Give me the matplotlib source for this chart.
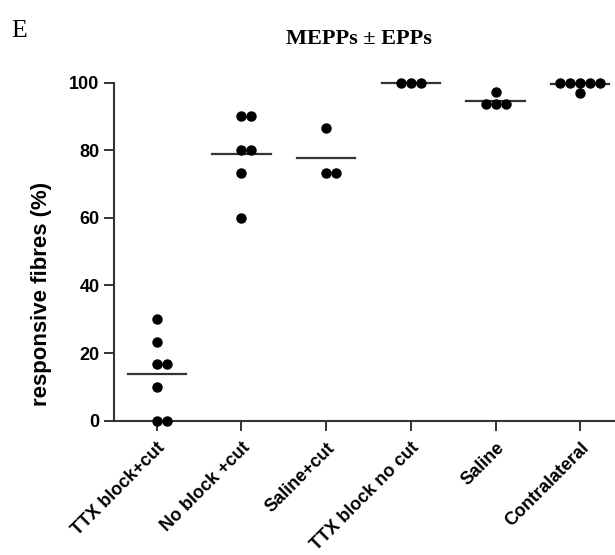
import numpy as np
import matplotlib
matplotlib.use("Agg")
import matplotlib.pyplot as plt

groups = ["TTX block+cut", "No block +cut", "Saline+cut", "TTX block no cut", "Saline", "Contralateral"]
ttx_cut = [30, 23.3, 16.7, 16.7, 10, 0, 0]
noblock_cut = [90, 90, 80, 80, 73.3, 60]
saline_cut = [86.7, 73.3, 73.3]
ttx_nocut = [100, 100, 100]
saline = [97.2, 93.7, 93.7, 93.7]
contra = [100, 100, 100, 100, 100, 97]
data = [ttx_cut, noblock_cut, saline_cut, ttx_nocut, saline, contra]
yticks = [0, 20, 40, 60, 80, 100]


def swarm(vals, step=0.118):
    # spread points that share a value side by side
    vals = np.asarray(vals, float)
    xs = np.zeros(len(vals))
    for v in np.unique(vals):
        idx = np.where(vals == v)[0]
        n = len(idx)
        xs[idx] = (np.arange(n) - (n - 1) // 2) * step
    return xs


plt.rcParams['font.family'] = ['Liberation Sans', 'DejaVu Sans']

fig = plt.figure(figsize=(6.15, 5.55), dpi=100)
ax = fig.add_axes([0.1854, 0.242, 0.8146, 0.609])

for i, vals in enumerate(data):
    xs = i + swarm(vals)
    ax.plot(xs, vals, 'o', color='black', markersize=6.5, clip_on=False, zorder=3)
    m = np.mean(vals)
    ax.plot([i - 0.344, i + 0.344], [m, m], color='#333333', lw=1.6, clip_on=False, zorder=2)

ax.set_xlim(-0.504, 5.41)
ax.set_ylim(0, 100)
ax.set_yticks(yticks)
ax.set_xticks(np.arange(len(groups)))
ax.set_xticklabels(groups, rotation=45, ha='right', rotation_mode='anchor',
                   fontsize=13, fontweight='bold')
ax.set_yticklabels([str(t) for t in yticks], fontsize=13, fontweight='bold')
ax.tick_params(axis='both', length=7.5, width=1.4, color='#333333', pad=3)
ax.tick_params(axis='x', pad=6)

for s in ['top', 'right']:
    ax.spines[s].set_visible(False)
for s in ['left', 'bottom']:
    ax.spines[s].set_linewidth(1.5)
    ax.spines[s].set_color('#333333')

ax.set_ylabel("responsive fibres (%)", fontsize=16, fontweight='bold')
ax.yaxis.set_label_coords(-0.124, 0.375)

fig.text(0.583, 0.93, "MEPPs \u00b1 EPPs", ha='center', va='center',
         fontsize=16, fontweight='bold', family=['Liberation Serif', 'DejaVu Serif'])
fig.text(0.031, 0.944, "E", ha='center', va='center', fontsize=18.5,
         family=['Liberation Serif', 'DejaVu Serif'])

fig.savefig("out.png", dpi=100)
